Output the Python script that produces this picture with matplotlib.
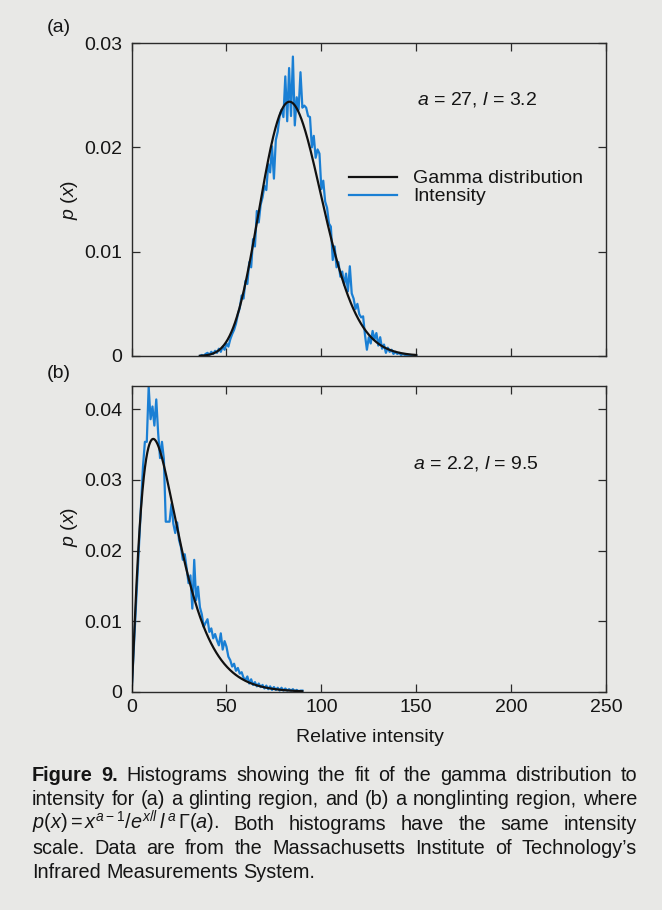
import math
import numpy as np
import matplotlib
matplotlib.use("Agg")
import matplotlib.pyplot as plt

plt.rcParams['font.family'] = ['Liberation Sans', 'DejaVu Sans']
plt.rcParams['mathtext.fontset'] = 'custom'
plt.rcParams['mathtext.rm'] = 'Liberation Sans'
plt.rcParams['mathtext.it'] = 'Liberation Sans:italic'
plt.rcParams['mathtext.bf'] = 'Liberation Sans:bold'

# ---------------- data ----------------
panel_labels = ["(a)", "(b)"]
param_labels = [r"$a$ = 27, $l$ = 3.2", r"$a$ = 2.2, $l$ = 9.5"]
gamma_a = [27.0, 2.2]
gamma_l = [3.2, 9.5]
gamma_x_range = [(36, 150), (0, 90)]
legend_labels = ["Gamma distribution", "Intensity"]
x_label = "Relative intensity"
y_label = r"$p$ ($x$)"
x_ticks = [0, 50, 100, 150, 200, 250]
x_tick_labels = ["0", "50", "100", "150", "200", "250"]
y_ticks_a = [0, 0.01, 0.02, 0.03]
y_tick_labels_a = ["0", "0.01", "0.02", "0.03"]
y_ticks_b = [0, 0.01, 0.02, 0.03, 0.04]
y_tick_labels_b = ["0", "0.01", "0.02", "0.03", "0.04"]
y_max_a = 0.03
y_max_b = 0.0433

intensity_a_x = list(range(36, 151))
intensity_a_y = [
    0.0000, 0.0001, 0.0000, 0.0002, 0.0003, 0.0001, 0.0004, 0.0002, 0.0005, 0.0003,
    0.0007, 0.0004, 0.0009, 0.0006, 0.0012, 0.0009, 0.0016, 0.0021, 0.0025, 0.0031,
    0.0040, 0.0046, 0.0058, 0.0055, 0.0072, 0.0069, 0.0090, 0.0085, 0.0112, 0.0105,
    0.0139, 0.0128, 0.0145, 0.0152, 0.0163, 0.0159, 0.0184, 0.0176, 0.0201, 0.0170,
    0.0207, 0.0215, 0.0230, 0.0236, 0.0229, 0.0268, 0.0225, 0.0276, 0.0230, 0.0287,
    0.0221, 0.0248, 0.0236, 0.0272, 0.0238, 0.0240, 0.0238, 0.0230, 0.0229, 0.0200,
    0.0211, 0.0190, 0.0198, 0.0194, 0.0160, 0.0168, 0.0148, 0.0142, 0.0127, 0.0124,
    0.0092, 0.0105, 0.0085, 0.0090, 0.0076, 0.0081, 0.0068, 0.0079, 0.0062, 0.0086,
    0.0060, 0.0055, 0.0045, 0.0050, 0.0040, 0.0037, 0.0038, 0.0020, 0.0006, 0.0018,
    0.0012, 0.0024, 0.0016, 0.0022, 0.0010, 0.0018, 0.0007, 0.0011, 0.0003, 0.0008,
    0.0004, 0.0006, 0.0002, 0.0004, 0.0002, 0.0003, 0.0001, 0.0002, 0.0001, 0.0001,
    0.0000, 0.0001, 0.0000, 0.0001, 0.0000,
]

intensity_b_x = [0] + list(range(6, 91))
intensity_b_y = [
    0.0000,
    0.0319, 0.0354, 0.0354, 0.0432, 0.0386, 0.0404, 0.0377, 0.0414, 0.0366, 0.0331,
    0.0354, 0.0330, 0.0241, 0.0241, 0.0241, 0.0266, 0.0238, 0.0225, 0.0240, 0.0215,
    0.0205, 0.0187, 0.0195, 0.0175, 0.0154, 0.0165, 0.0118, 0.0187, 0.0130, 0.0149,
    0.0120, 0.0110, 0.0092, 0.0098, 0.0103, 0.0085, 0.0090, 0.0076, 0.0082, 0.0073,
    0.0066, 0.0083, 0.0060, 0.0072, 0.0064, 0.0050, 0.0045, 0.0036, 0.0040, 0.0030,
    0.0034, 0.0026, 0.0028, 0.0020, 0.0017, 0.0022, 0.0012, 0.0018, 0.0010, 0.0014,
    0.0008, 0.0012, 0.0007, 0.0010, 0.0005, 0.0009, 0.0004, 0.0008, 0.0003, 0.0007,
    0.0003, 0.0006, 0.0002, 0.0006, 0.0002, 0.0005, 0.0002, 0.0004, 0.0002, 0.0004,
    0.0001, 0.0003, 0.0001, 0.0002, 0.0002,
]

caption_lines = [
    ["Figure", "9.", "Histograms", "showing", "the", "fit", "of", "the", "gamma",
     "distribution", "to"],
    ["intensity", "for", "(a)", "a", "glinting", "region,", "and", "(b)", "a",
     "nonglinting", "region,", "where"],
    [r"$p(x) = x^{a-1}/e^{x/l}\,l^{\,a}\,\Gamma(a)$.", "Both", "histograms", "have",
     "the", "same", "intensity"],
    ["scale.", "Data", "are", "from", "the", "Massachusetts", "Institute", "of",
     "Technology\u2019s"],
    ["Infrared", "Measurements", "System."],
]

# ---------------- style ----------------
W, H = 662, 910
BG = "#e8e8e6"
TXT = "#151515"
SPINE = "#2a2a2a"
BLUE = "#1a7fd4"
FS = 14
CAP_FS = 14.3


def gamma_pdf(x, a, l):
    x = np.asarray(x, dtype=float)
    out = np.zeros_like(x)
    pos = x > 0
    out[pos] = np.exp((a - 1) * np.log(x[pos]) - x[pos] / l
                      - a * math.log(l) - math.lgamma(a))
    return out


fig = plt.figure(figsize=(W / 100, H / 100), dpi=100, facecolor=BG)


def fig_rect(left_px, top_px, right_px, bottom_px):
    return [left_px / W, 1 - bottom_px / H, (right_px - left_px) / W,
            (bottom_px - top_px) / H]


ax_a = fig.add_axes(fig_rect(131.6, 43, 606, 356))
ax_b = fig.add_axes(fig_rect(131.6, 386, 606, 692))

panels = [
    (ax_a, intensity_a_x, intensity_a_y, y_ticks_a, y_tick_labels_a, y_max_a),
    (ax_b, intensity_b_x, intensity_b_y, y_ticks_b, y_tick_labels_b, y_max_b),
]

for i, (ax, ix, iy, yt, ytl, ymax) in enumerate(panels):
    ax.set_facecolor(BG)
    lo, hi = gamma_x_range[i]
    gx = np.linspace(lo, hi, 600)
    ax.plot(gx, gamma_pdf(gx, gamma_a[i], gamma_l[i]), color="#111111",
            lw=1.6, label=legend_labels[0], zorder=3)
    ax.plot(ix, iy, color=BLUE, lw=1.6, label=legend_labels[1], zorder=2)
    ax.set_xlim(0, 250)
    ax.set_ylim(0, ymax)
    ax.set_xticks(x_ticks)
    ax.set_yticks(yt)
    ax.set_yticklabels(ytl)
    ax.tick_params(direction="in", length=6, width=0.9, color=SPINE,
                   top=True, right=True, labelsize=FS, labelcolor=TXT)
    ax.tick_params(axis="y", pad=7)
    ax.tick_params(axis="x", pad=5)
    for sp in ax.spines.values():
        sp.set_color(SPINE)
        sp.set_linewidth(1.0)
    if i == 0:
        ax.set_xticklabels([])
    else:
        ax.set_xticklabels(x_tick_labels)

# parameter annotations
ax_a.text(0.602, 0.821, param_labels[0], transform=ax_a.transAxes,
          fontsize=FS, color=TXT, ha="left", va="center")
ax_b.text(0.593, 0.748, param_labels[1], transform=ax_b.transAxes,
          fontsize=FS, color=TXT, ha="left", va="center")

# legend in panel (a)
leg = ax_a.legend(loc="center left", bbox_to_anchor=(0.458, 0.538),
                  frameon=False, fontsize=FS, handlelength=2.5,
                  handletextpad=0.8, labelspacing=0.02, borderpad=0,
                  borderaxespad=0)
for t in leg.get_texts():
    t.set_color(TXT)

# panel labels and y labels
fig.text(47 / W, 1 - 27 / H, panel_labels[0], fontsize=FS, color=TXT,
         ha="left", va="center")
fig.text(47 / W, 1 - 373 / H, panel_labels[1], fontsize=FS, color=TXT,
         ha="left", va="center")
fig.text(70 / W, 1 - 200 / H, y_label, fontsize=FS, color=TXT, rotation=90,
         ha="center", va="center")
fig.text(70 / W, 1 - 527 / H, y_label, fontsize=FS, color=TXT, rotation=90,
         ha="center", va="center")
fig.text(370 / W, 1 - 738 / H, x_label, fontsize=FS, color=TXT,
         ha="center", va="center")

# ---------------- justified caption ----------------
fig.canvas.draw()
renderer = fig.canvas.get_renderer()
cap_left, cap_right = 32.0, 637.0
baseline0, line_step = 781.0, 24.3

probe1 = fig.text(0, 0, "x x", fontsize=CAP_FS)
probe2 = fig.text(0, 0, "xx", fontsize=CAP_FS)
space_w = (probe1.get_window_extent(renderer).width
           - probe2.get_window_extent(renderer).width)
probe1.remove()
probe2.remove()

for li, words in enumerate(caption_lines):
    yb = 1 - (baseline0 + li * line_step) / H
    objs = []
    for wi, w in enumerate(words):
        weight = "bold" if (li == 0 and wi < 2) else "normal"
        objs.append(fig.text(0, yb, w, fontsize=CAP_FS, fontweight=weight,
                             color=TXT, ha="left", va="baseline"))
    widths = [t.get_window_extent(renderer).width for t in objs]
    if li < len(caption_lines) - 1:
        gap = (cap_right - cap_left - sum(widths)) / (len(objs) - 1)
        gap = max(gap, 0.35 * space_w)
    else:
        gap = space_w
    x = cap_left
    for t, wd in zip(objs, widths):
        t.set_x(x / W)
        x += wd + gap

fig.savefig("out.png", dpi=100, facecolor=BG)
